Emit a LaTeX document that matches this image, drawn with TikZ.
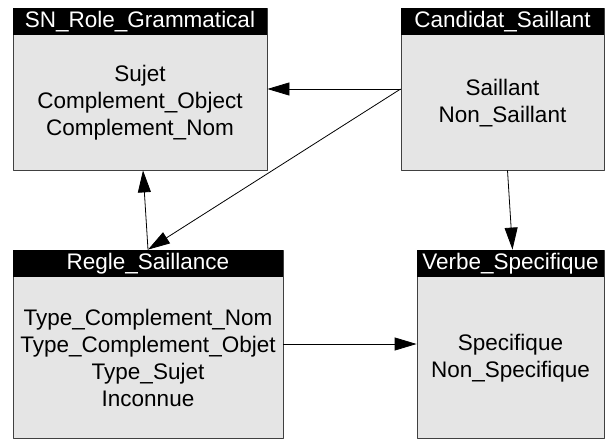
\documentclass[tikz,border=0pt]{standalone}
\usepackage{fontspec}
\setmainfont{Liberation Sans}
\usetikzlibrary{arrows.meta,calc}
\tikzset{
  classbox/.style={draw=black!75, fill=black!10, line width=0.8pt, inner sep=0pt},
  classhead/.style={fill=black, text=white, inner sep=0pt, minimum height=27pt, anchor=north},
  classbody/.style={align=center, inner sep=0pt},
  assoc/.style={-{Triangle[length=22pt,width=13pt]}, line width=0.8pt},
}
\begin{document}
\begin{tikzpicture}[x=1pt, y=-1pt, line join=round, font=\fontsize{22.5}{27}\selectfont]
\useasboundingbox (0,0) rectangle (605,439);
% classes
\node[classbox, minimum width=254pt, minimum height=162pt] (sn) at (140,89) {};
\node[classhead, minimum width=254pt] (snhead) at (sn.north) {SN\_Role\_Grammatical};
\node[classbody] (snlist) at ($(snhead.south)!0.5!(sn.south)$) {Sujet\\Complement\_Object\\Complement\_Nom};

\node[classbox, minimum width=203pt, minimum height=162pt] (cand) at (502.5,89) {};
\node[classhead, minimum width=203pt] (candhead) at (cand.north) {Candidat\_Saillant};
\node[classbody] (candlist) at ($(candhead.south)!0.5!(cand.south)$) {Saillant\\Non\_Saillant};

\node[classbox, minimum width=270pt, minimum height=188pt] (regle) at (148,344) {};
\node[classhead, minimum width=270pt] (reglehead) at (regle.north) {Regle\_Saillance};
\node[classbody] (reglelist) at ($(reglehead.south)!0.5!(regle.south)$) {Type\_Complement\_Nom\\Type\_Complement\_Objet\\Type\_Sujet\\Inconnue};

\node[classbox, minimum width=187pt, minimum height=188pt] (verbe) at (510.5,344) {};
\node[classhead, minimum width=187pt] (verbehead) at (verbe.north) {Verbe\_Specifique};
\node[classbody] (verbelist) at ($(verbehead.south)!0.5!(verbe.south)$) {Specifique\\Non\_Specifique};

% associations
\draw[assoc] (cand.west) -- (sn.east |- cand.west);
\draw[assoc] (cand.west) -- (regle.north);
\draw[assoc] (regle.north) -- ([xshift=3pt]sn.south);
\draw[assoc] ([xshift=5pt]cand.south) -- ([xshift=2pt]verbe.north);
\draw[assoc] (regle.east) -- (regle.east -| verbe.west);
\end{tikzpicture}
\end{document}
